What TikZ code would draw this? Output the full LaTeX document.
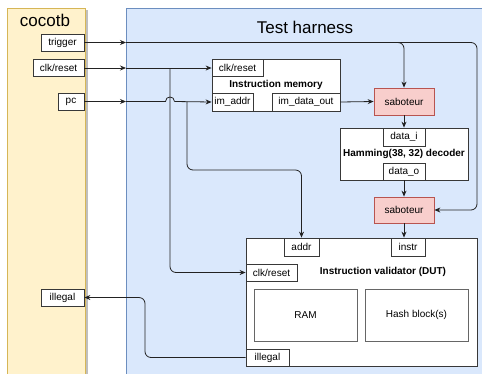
\documentclass[tikz,border=0pt]{standalone}
\usepackage{fontspec}
\setmainfont{Liberation Sans}
\usetikzlibrary{arrows.meta,calc}
\definecolor{cocofill}{HTML}{FFF2CC}
\definecolor{cocoline}{HTML}{D6B656}
\definecolor{harnfill}{HTML}{DAE8FC}
\definecolor{harnline}{HTML}{6C8EBF}
\definecolor{sabfill}{HTML}{F8CECC}
\definecolor{sabline}{HTML}{B85450}
\definecolor{edge}{HTML}{222222}
\tikzset{
  box/.style={draw=edge!90, fill=white, line width=0.8pt, inner sep=0pt, font=\fontsize{10}{12}\selectfont},
  inbox/.style={draw=black!60, fill=white, line width=0.8pt, inner sep=0pt, font=\fontsize{10}{12}\selectfont},
  sab/.style={draw=sabline, fill=sabfill, line width=0.8pt, inner sep=0pt, minimum width=60pt, minimum height=26pt, font=\fontsize{10}{12}\selectfont},
  title/.style={font=\fontsize{10}{12}\selectfont\bfseries, inner sep=0pt},
  conn/.style={draw=edge, line width=0.8pt, -{Stealth[length=6pt,width=5pt]}},
  wire/.style={draw=edge, line width=0.8pt},
}
\begin{document}
\begin{tikzpicture}[x=1pt,y=-1pt]
\useasboundingbox (0,0) rectangle (482,373);
\clip (0,0) rectangle (482,373);
% panels
\fill[black!25] (86,10) rectangle (88,380);
\draw[cocoline, fill=cocofill, line width=0.8pt] (7,8) rectangle (85,390);
\draw[harnline, fill=harnfill, line width=0.8pt] (126,8) rectangle (500,390);
\node[font=\fontsize{17}{20}\selectfont, inner sep=0pt] (lcoco) at (45,20) {cocotb};
\node[font=\fontsize{17}{20}\selectfont, inner sep=0pt] (lharn) at (305,27) {Test harness};
% cocotb ports
\node[box, minimum width=43pt, minimum height=17pt] (trig) at (62.5,42.5) {trigger};
\node[box, minimum width=51pt, minimum height=17pt] (clkc) at (58.5,68) {clk/reset};
\node[box, minimum width=26pt, minimum height=17pt] (pcc) at (71,101.5) {pc};
\node[box, minimum width=43pt, minimum height=17pt] (illc) at (62.5,297.5) {illegal};
% instruction memory
\node[box, minimum width=128pt, minimum height=52pt] (imem) at (276,85) {};
\node[title] (imtitle) at (276,85) {Instruction memory};
\node[box, minimum width=51pt, minimum height=17pt] (imclk) at (237.5,68) {clk/reset};
\node[box, minimum width=41pt, minimum height=18pt] (imaddr) at (232.5,102) {im\_addr};
\node[box, minimum width=68pt, minimum height=18pt] (imdata) at (306,102) {im\_data\_out};
% saboteurs
\node[sab, minimum height=27pt] (sab1) at (404,101.5) {saboteur};
\node[sab] (sab2) at (404,210) {saboteur};
% hamming decoder
\node[box, minimum width=128pt, minimum height=52pt] (ham) at (404,154) {};
\node[title] (hamtitle) at (404,154) {Hamming(38, 32) decoder};
\node[box, minimum width=42pt, minimum height=18pt] (datai) at (404,137) {data\_i};
\node[box, minimum width=42pt, minimum height=17pt] (datao) at (404,171.5) {data\_o};
% DUT
\node[box, minimum width=231pt, minimum height=128pt] (dut) at (361.5,302) {};
\node[title] (duttitle) at (383,272) {Instruction validator (DUT)};
\node[box, minimum width=35pt, minimum height=18pt] (addr) at (301.5,247) {addr};
\node[box, minimum width=34pt, minimum height=18pt] (instr) at (408,247) {instr};
\node[box, minimum width=51pt, minimum height=17pt] (dutclk) at (271.5,272.5) {clk/reset};
\node[inbox, minimum width=103pt, minimum height=52pt] (ram) at (305.5,315) {RAM};
\node[inbox, minimum width=103pt, minimum height=52pt] (hash) at (416.5,315) {Hash block(s)};
\node[box, minimum width=43pt, minimum height=17pt] (dutill) at (267.5,357.5) {illegal};
% coordinates
\coordinate (tH) at (126,42.5);
\coordinate (cH) at (126,68);
\coordinate (pH) at (126,101.5);
\coordinate (tR) at (477,42.5);
\coordinate (jclk) at (170,68);
\coordinate (jpc) at (187,101.5);
\coordinate (pcb) at (301.5,170);
\coordinate (hopa) at (165.5,101.5);
\coordinate (hopb) at (174.5,101.5);
\coordinate (ilx) at (145,330);
% trigger
\draw[conn] (trig.east) -- (tH);
\draw[conn, rounded corners=6pt] (tH) -| (sab1.north);
\draw[conn, rounded corners=6pt] (tH) -- (tR) |- (sab2.east);
% clk/reset
\draw[conn] (clkc.east) -- (cH);
\draw[conn] (cH) -- (imclk.west);
\draw[conn, rounded corners=6pt] (jclk) |- (dutclk.west);
% pc
\draw[conn] (pcc.east) -- (pH);
\draw[wire] (pH) -- (hopa) .. controls ($(hopa)+(0,-6)$) and ($(hopb)+(0,-6)$) .. (hopb);
\draw[conn] (hopb) -- (imaddr.west);
\draw[conn, rounded corners=6pt] (jpc) |- (pcb) -- (addr.north);
% data path
\draw[conn] (imdata.east) -- (sab1.west);
\draw[conn] (sab1.south) -- (datai.north);
\draw[conn] (datao.south) -- (sab2.north);
\draw[conn] (sab2.south) -- (sab2.south |- dut.north);
% illegal
\draw[conn, rounded corners=6pt] (dutill.west) -| (ilx |- illc.east) -- (illc.east);
\end{tikzpicture}
\end{document}
